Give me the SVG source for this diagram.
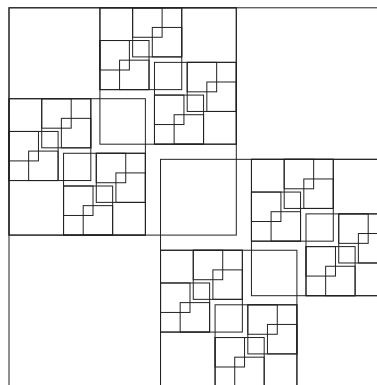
<svg xmlns="http://www.w3.org/2000/svg" width="377" height="385" viewBox="0 0 377 385">
<style>
.bg{fill:#ffffff;stroke:none}
.sq{fill:none;stroke:#222222;stroke-width:1}
</style>
<defs>
<g id="A1" class="tile">
<rect class="sq" x="0" y="0" width="81.828" height="81.828"/>
<rect class="sq" x="32.731" y="0" width="49.097" height="49.097"/>
<rect class="sq" x="32.731" y="0" width="29.458" height="29.458"/>
<rect class="sq" x="52.37" y="19.639" width="29.458" height="29.458"/>
<rect class="sq" x="0" y="32.731" width="49.097" height="49.097"/>
<rect class="sq" x="0" y="32.731" width="29.458" height="29.458"/>
<rect class="sq" x="19.639" y="52.37" width="29.458" height="29.458"/>
</g>
<g id="A2" class="tile">
<rect class="sq" x="0" y="0" width="227.3" height="227.3"/>
<rect class="sq" x="90.92" y="0" width="136.38" height="136.38"/>
<rect class="sq" x="0" y="90.92" width="136.38" height="136.38"/>
<use href="#A1" x="90.92" y="0"/>
<use href="#A1" x="145.472" y="54.552"/>
<use href="#A1" x="0" y="90.92"/>
<use href="#A1" x="54.552" y="145.472"/>
</g>
</defs>
<rect class="bg" x="0" y="0" width="377" height="385"/>
<g id="frame"><rect class="sq" x="9" y="7.8" width="378.83" height="378.83"/></g>
<g id="blob1"><use href="#A2" x="9" y="7.8"/></g>
<g id="blob2"><use href="#A2" x="160.53" y="159.33"/></g>
</svg>
